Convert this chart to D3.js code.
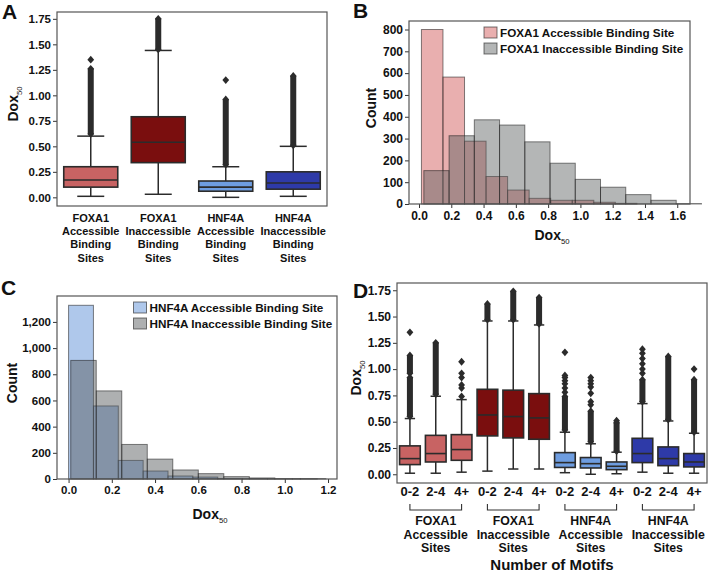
<!DOCTYPE html>
<html><head><meta charset="utf-8">
<script src="https://cdn.jsdelivr.net/npm/d3@7"></script>
<style>
body{margin:0;background:#fff;}
svg text{font-family:"Liberation Sans",Arial,Helvetica,sans-serif;font-weight:bold;fill:#111;}
</style></head><body>
<svg id="chart" width="708" height="573"></svg>
<script>
// ---------- Panel A data ----------
const catsA = ["FOXA1 Accessible Binding Sites","FOXA1 Inaccessible Binding Sites","HNF4A Accessible Binding Sites","HNF4A Inaccessible Binding Sites"];
const labelLinesA = [["FOXA1","Accessible","Binding","Sites"],["FOXA1","Inaccessible","Binding","Sites"],["HNF4A","Accessible","Binding","Sites"],["HNF4A","Inaccessible","Binding","Sites"]];
const colorsA = ["#c86363","#7a0e0e","#6e9de0","#2e3aa8"];
const lowA  = [0.01, 0.03, 0.00, 0.01];
const q1A   = [0.10, 0.34, 0.06, 0.08];
const medA  = [0.17, 0.54, 0.10, 0.14];
const q3A   = [0.30, 0.79, 0.16, 0.25];
const highA = [0.60, 1.44, 0.30, 0.50];
const outRangesA = [[[0.62,1.26]],[[1.45,1.75]],[[0.32,0.96]],[[0.51,1.19]]];
const outPointsA = [[1.35],[],[1.15],[]];
const yTicksBox = [0,0.25,0.5,0.75,1.0,1.25,1.5,1.75];

// ---------- Panel B data ----------
const seriesB = ["FOXA1 Accessible Binding Site","FOXA1 Inaccessible Binding Site"];
const rangeB_acc = [0.015, 1.35];
const countsB_acc = [800, 582, 288, 126, 64, 26, 17, 17, 8, 3];
const rangeB_inacc = [0.03, 1.75];
const countsB_inacc = [153, 313, 386, 362, 285, 187, 113, 77, 43, 17, 2];
const xTicksB = [0,0.2,0.4,0.6,0.8,1.0,1.2,1.4,1.6];
const yTicksB = [0,100,200,300,400,500,600,700,800];

// ---------- Panel C data ----------
const seriesC = ["HNF4A Accessible Binding Site","HNF4A Inaccessible Binding Site"];
const rangeC_acc = [0.0, 1.15];
const countsC_acc = [1327, 558, 142, 61, 23, 15, 4, 2, 1, 1];
const rangeC_inacc = [0.01, 1.19];
const countsC_inacc = [906, 673, 264, 152, 69, 41, 18, 8, 3, 3];
const xTicksC = [0,0.2,0.4,0.6,0.8,1.0,1.2];
const yTicksC = [0,200,400,600,800,1000,1200];

// ---------- Panel D data ----------
const motifBins = ["0-2","2-4","4+","0-2","2-4","4+","0-2","2-4","4+","0-2","2-4","4+"];
const groupsD = [["FOXA1","Accessible","Sites"],["FOXA1","Inaccessible","Sites"],["HNF4A","Accessible","Sites"],["HNF4A","Inaccessible","Sites"]];
const colorsD = ["#c86363","#c86363","#c86363","#7a0e0e","#7a0e0e","#7a0e0e","#6e9de0","#6e9de0","#6e9de0","#2e3aa8","#2e3aa8","#2e3aa8"];
const lowD  = [0.01, 0.01, 0.02, 0.03, 0.05, 0.05, 0.015, 0.00, 0.005, 0.02, 0.01, 0.01];
const q1D   = [0.092,0.117,0.133,0.365,0.346,0.333,0.065,0.060,0.044,0.111,0.082,0.070];
const medD  = [0.149,0.197,0.235,0.564,0.549,0.536,0.111,0.101,0.076,0.197,0.149,0.117];
const q3D   = [0.270,0.370,0.377,0.808,0.800,0.767,0.206,0.159,0.117,0.342,0.260,0.197];
const highD = [0.53, 0.742,0.71, 1.458,1.458,1.42, 0.40, 0.29, 0.21, 0.672,0.507,0.39];
const outRangesD = [[[0.55,0.92],[0.96,1.13]],[[0.76,1.25]],[],[[1.47,1.62]],[[1.47,1.74]],[[1.43,1.68]],[[0.42,0.74]],[[0.31,0.60]],[[0.22,0.49]],[[0.69,0.90]],[[0.52,1.12]],[[0.40,0.90]]];
const outPointsD = [[1.35],[],[0.74,0.82,0.85,0.92,0.96,1.07],[],[],[],[0.78,0.82,0.86,0.89,0.92,0.94,1.16],[0.66,0.69,0.77,0.83,0.86,0.89,0.92],[0.51],[0.96,1.00,1.05,1.10,1.15,1.19],[],[1.00]];

// ---------- drawing ----------
const svg = d3.select("#chart");
const INK = "#2b2b2b";
const FRAME = "#555";

function diamondPath(x, y) {
  const rx = 3.4, ry = 3.9;
  return `M${x},${y-ry}L${x+rx},${y}L${x},${y+ry}L${x-rx},${y}Z`;
}

function styleAxis(g, size) {
  g.select(".domain").remove();
  g.selectAll(".tick line").attr("stroke", "#333").attr("stroke-width", 1);
  g.selectAll(".tick text").style("font-size", (size||11.5) + "px").attr("fill", "#111");
}

function frame(l, t, r, b) {
  svg.append("rect").attr("x", l).attr("y", t).attr("width", r-l).attr("height", b-t)
    .attr("fill", "none").attr("stroke", FRAME).attr("stroke-width", 1.2);
}

function doxLabel(x, y, rotate, size) {
  const t = svg.append("text")
    .attr("text-anchor", "middle")
    .attr("transform", rotate ? `translate(${x},${y}) rotate(-90)` : `translate(${x},${y})`)
    .style("font-size", size + "px");
  t.append("tspan").text("Dox");
  t.append("tspan").text("50").attr("dy", 4).style("font-size", (size*0.55) + "px").style("font-weight", "normal");
}

function panelLetter(txt, x, y) {
  svg.append("text").attr("x", x).attr("y", y).text(txt).style("font-size", "21px");
}

function boxPanel(o) {
  const x = d3.scaleBand().domain(d3.range(o.n)).range([o.left, o.right]).padding(0);
  const y = d3.scaleLinear().domain(o.yDomain).range([o.bottom, o.top]);
  const bw = x.bandwidth() * 0.8;
  const g = svg.append("g");
  for (let i = 0; i < o.n; i++) {
    const cx = x(i) + x.bandwidth()/2;
    const gi = g.append("g");
    gi.append("line").attr("x1", cx).attr("x2", cx).attr("y1", y(o.low[i])).attr("y2", y(o.q1[i])).attr("stroke", INK).attr("stroke-width", 1.5);
    gi.append("line").attr("x1", cx).attr("x2", cx).attr("y1", y(o.q3[i])).attr("y2", y(o.high[i])).attr("stroke", INK).attr("stroke-width", 1.5);
    [o.low[i], o.high[i]].forEach(v => {
      gi.append("line").attr("x1", cx - bw/4).attr("x2", cx + bw/4).attr("y1", y(v)).attr("y2", y(v)).attr("stroke", INK).attr("stroke-width", 1.5);
    });
    gi.append("rect").attr("x", cx - bw/2).attr("width", bw)
      .attr("y", y(o.q3[i])).attr("height", y(o.q1[i]) - y(o.q3[i]))
      .attr("fill", o.colors[i]).attr("stroke", INK).attr("stroke-width", 1.6);
    gi.append("line").attr("x1", cx - bw/2).attr("x2", cx + bw/2).attr("y1", y(o.med[i])).attr("y2", y(o.med[i])).attr("stroke", INK).attr("stroke-width", 1.6);
    o.outRanges[i].forEach(r => {
      gi.append("rect").attr("x", cx - 3).attr("width", 6).attr("y", y(r[1])).attr("height", y(r[0]) - y(r[1])).attr("fill", INK);
      gi.append("path").attr("d", diamondPath(cx, y(r[0]))).attr("fill", INK);
      gi.append("path").attr("d", diamondPath(cx, y(r[1]))).attr("fill", INK);
    });
    o.outPoints[i].forEach(v => {
      gi.append("path").attr("d", diamondPath(cx, y(v))).attr("fill", INK);
    });
  }
  const ya = svg.append("g").attr("transform", `translate(${o.left},0)`)
    .call(d3.axisLeft(y).tickValues(yTicksBox).tickFormat(d3.format(".2f")).tickSize(4).tickPadding(2));
  styleAxis(ya, o.tickSize);
  frame(o.left, o.top, o.right, o.bottom);
  return {x, y};
}

function histPanel(o) {
  const x = d3.scaleLinear().domain(o.xDomain).range([o.left, o.right]);
  const y = d3.scaleLinear().domain(o.yDomain).range([o.bottom, o.top]);
  o.series.forEach(s => {
    const w = (s.range[1] - s.range[0]) / s.counts.length;
    svg.append("g").selectAll("rect").data(s.counts).join("rect")
      .attr("x", (d, i) => x(s.range[0] + i*w))
      .attr("width", (d, i) => x(s.range[0] + (i+1)*w) - x(s.range[0] + i*w))
      .attr("y", d => y(d))
      .attr("height", d => y(0) - y(d))
      .attr("fill", s.fill)
      .attr("stroke", "rgba(30,30,30,0.55)").attr("stroke-width", 1);
  });
  const xa = svg.append("g").attr("transform", `translate(0,${o.bottom})`)
    .call(d3.axisBottom(x).tickValues(o.xTicks).tickFormat(d3.format(".1f")).tickSize(4).tickPadding(3));
  styleAxis(xa, o.tickSize);
  const ya = svg.append("g").attr("transform", `translate(${o.left},0)`)
    .call(d3.axisLeft(y).tickValues(o.yTicks).tickFormat(d3.format(",")).tickSize(4).tickPadding(2));
  styleAxis(ya, o.tickSize);
  frame(o.left, o.top, o.right, o.bottom);
  o.series.forEach((s, k) => {
    svg.append("rect").attr("x", o.legX).attr("y", o.legY + k*16).attr("width", 13).attr("height", 11)
      .attr("fill", s.fill).attr("stroke", "rgba(30,30,30,0.6)").attr("stroke-width", 1);
    svg.append("text").attr("x", o.legX + 16).attr("y", o.legY + k*16 + 10).text(s.name).style("font-size", "11.7px");
  });
  return {x, y};
}

// ===== Panel A =====
panelLetter("A", 2, 19);
const A = boxPanel({n: catsA.length, left: 57, right: 327, top: 12, bottom: 206, yDomain: [-0.085, 1.817], tickSize: 11.5,
  low: lowA, q1: q1A, med: medA, q3: q3A, high: highA, outRanges: outRangesA, outPoints: outPointsA, colors: colorsA});
labelLinesA.forEach((lines, i) => {
  const cx = A.x(i) + A.x.bandwidth()/2;
  const t = svg.append("text").attr("text-anchor", "middle").style("font-size", "11px");
  lines.forEach((ln, k) => t.append("tspan").attr("x", cx).attr("y", 222 + k*13.2).text(ln));
});
doxLabel(18, 104, true, 14);

// ===== Panel B =====
panelLetter("B", 353, 18);
histPanel({left: 409, right: 690, top: 21, bottom: 204, xDomain: [-0.062, 1.679], yDomain: [0, 839], tickSize: 12,
  xTicks: xTicksB, yTicks: yTicksB, legX: 484, legY: 27,
  series: [
    {name: seriesB[0], range: rangeB_acc, counts: countsB_acc, fill: "rgba(208,88,88,0.48)"},
    {name: seriesB[1], range: rangeB_inacc, counts: countsB_inacc, fill: "rgba(88,94,94,0.45)"}
  ]});
svg.append("text").attr("text-anchor", "middle").attr("transform", "translate(376,108) rotate(-90)").text("Count").style("font-size", "14px");
doxLabel(552, 240, false, 14);

// ===== Panel C =====
panelLetter("C", 1, 295);
histPanel({left: 57, right: 337, top: 296, bottom: 479, xDomain: [-0.0535, 1.2415], yDomain: [0, 1398], tickSize: 11.5,
  xTicks: xTicksC, yTicks: yTicksC, legX: 133.5, legY: 302,
  series: [
    {name: seriesC[0], range: rangeC_acc, counts: countsC_acc, fill: "rgba(95,145,215,0.5)"},
    {name: seriesC[1], range: rangeC_inacc, counts: countsC_inacc, fill: "rgba(85,90,92,0.48)"}
  ]});
svg.append("text").attr("text-anchor", "middle").attr("transform", "translate(17,383) rotate(-90)").text("Count").style("font-size", "14px");
doxLabel(210, 519, false, 14);

// ===== Panel D =====
panelLetter("D", 353, 298);
const D = boxPanel({n: motifBins.length, left: 397, right: 707, top: 283, bottom: 483, yDomain: [-0.083, 1.819], tickSize: 12,
  low: lowD, q1: q1D, med: medD, q3: q3D, high: highD, outRanges: outRangesD, outPoints: outPointsD, colors: colorsD});
motifBins.forEach((m, i) => {
  const cx = D.x(i) + D.x.bandwidth()/2;
  svg.append("text").attr("x", cx).attr("y", 496).attr("text-anchor", "middle").text(m).style("font-size", "13px");
});
groupsD.forEach((lines, gi) => {
  const c0 = D.x(gi*3) + D.x.bandwidth()/2;
  const c2 = D.x(gi*3+2) + D.x.bandwidth()/2;
  const c1 = D.x(gi*3+1) + D.x.bandwidth()/2;
  svg.append("path").attr("d", `M${c0},504V510H${c2}V504`).attr("fill", "none").attr("stroke", "#333").attr("stroke-width", 1.1);
  const t = svg.append("text").attr("text-anchor", "middle").style("font-size", "12.3px");
  lines.forEach((ln, k) => t.append("tspan").attr("x", c1).attr("y", 525 + k*13.5).text(ln));
});
svg.append("text").attr("x", 552).attr("y", 569.5).attr("text-anchor", "middle").text("Number of Motifs").style("font-size", "15px");
doxLabel(361, 378, true, 14);
</script>
</body></html>
